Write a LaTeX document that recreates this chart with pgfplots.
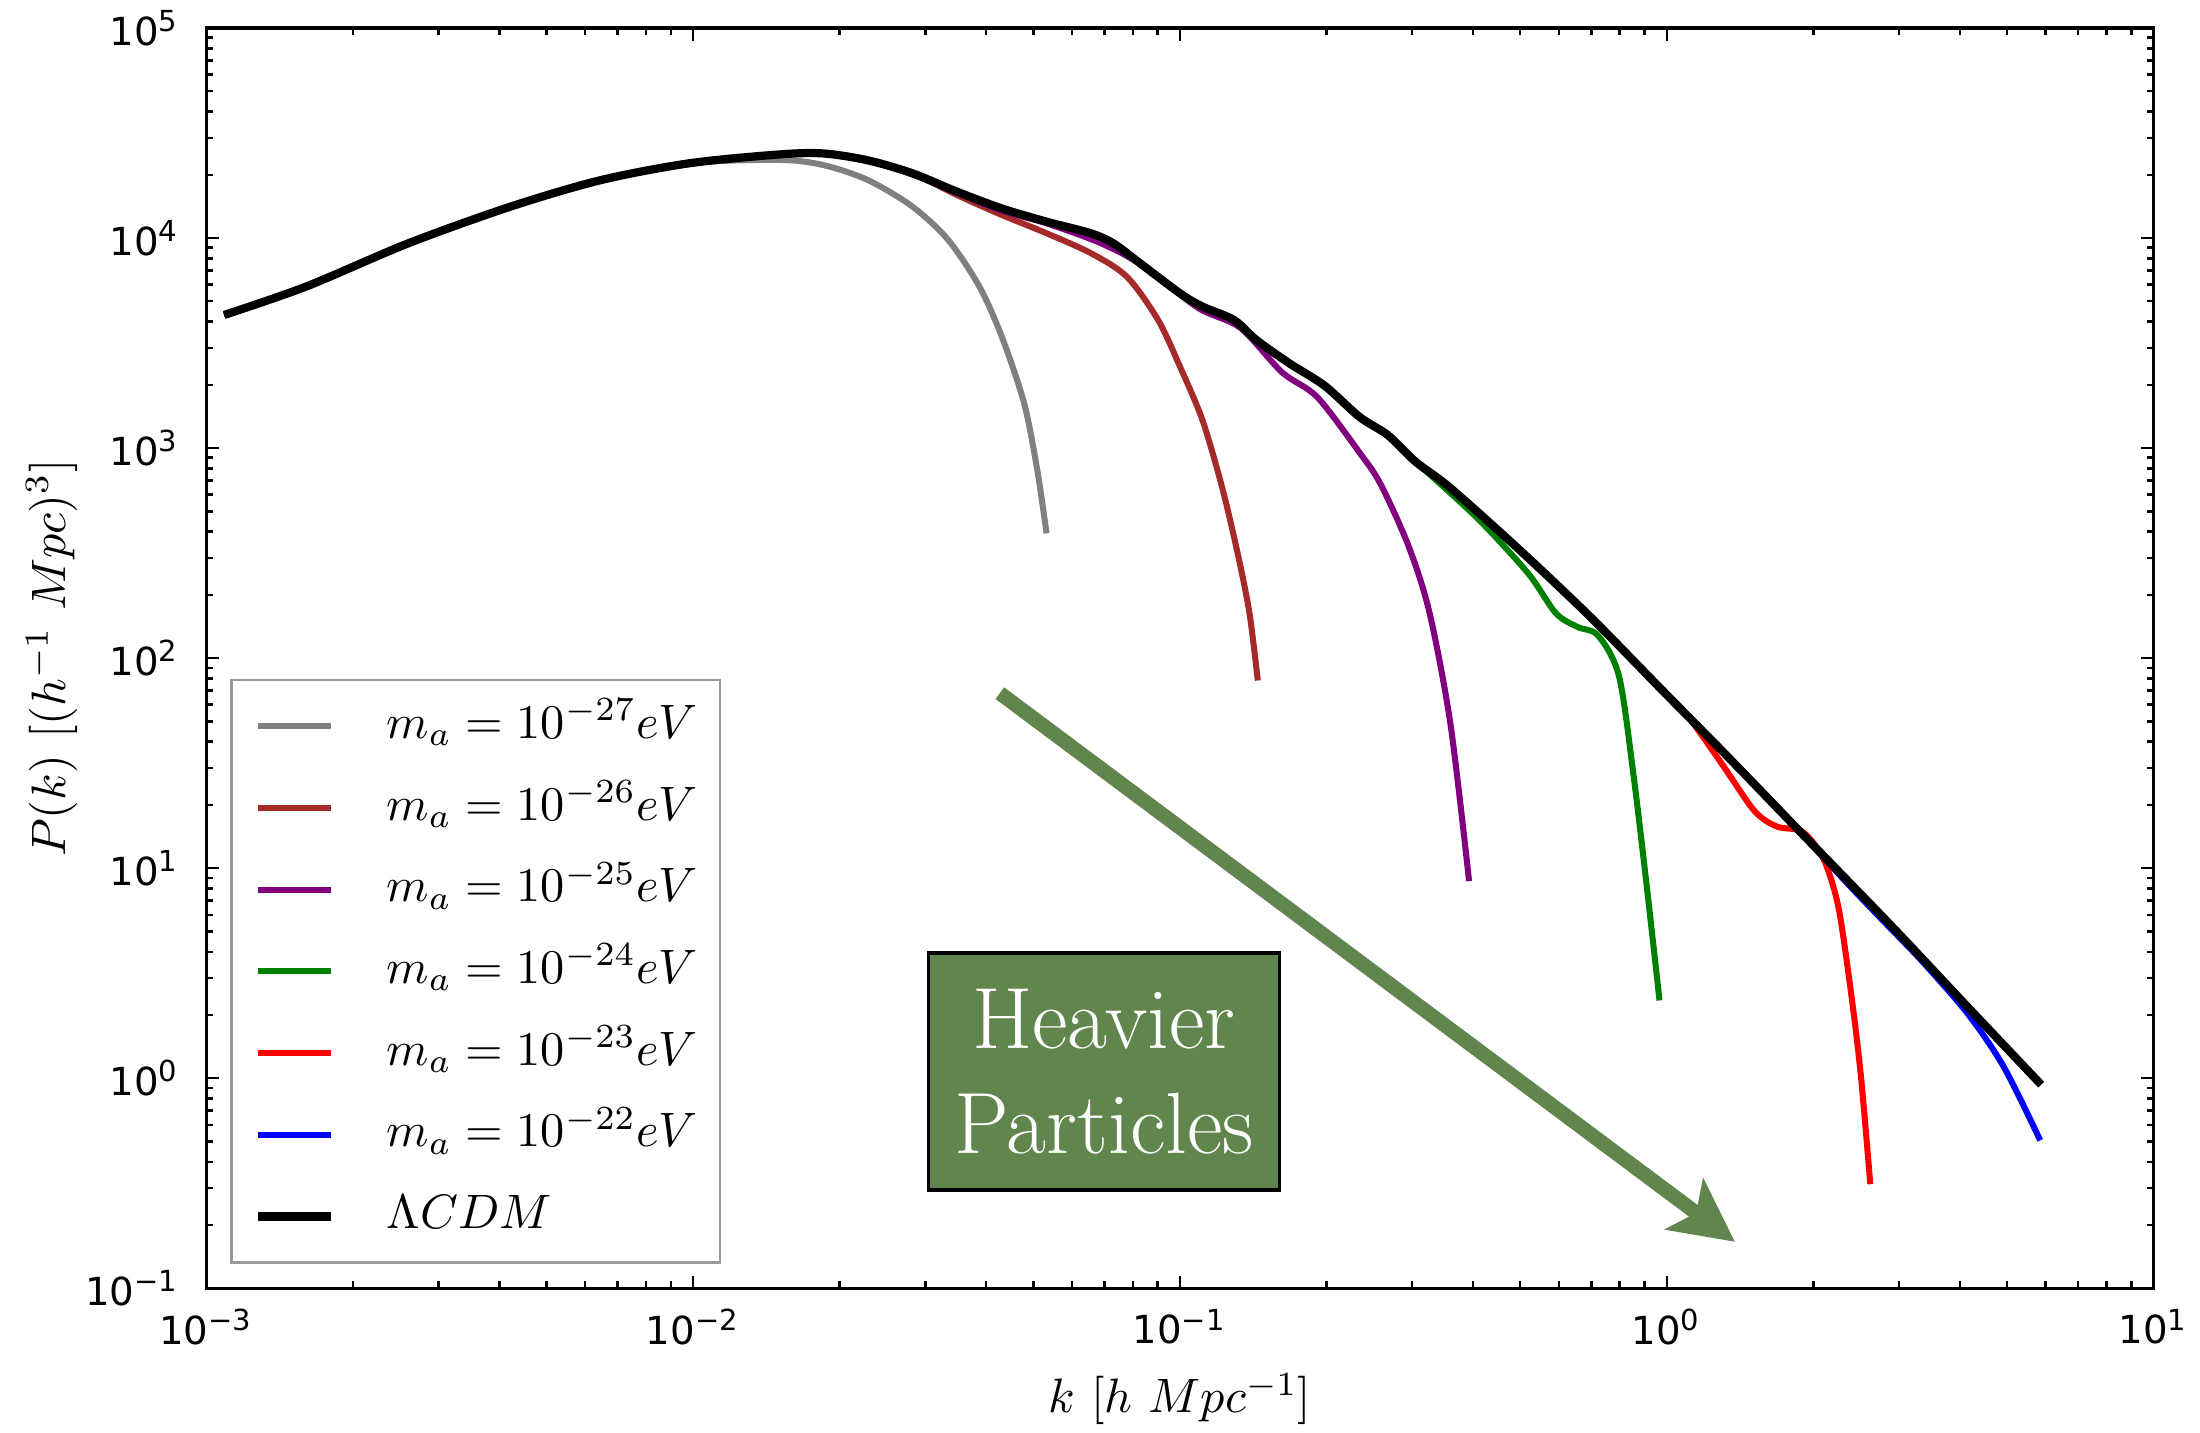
\documentclass[border=0pt]{standalone}
\usepackage{fontspec}
\usepackage{pgfplots}
\pgfplotsset{compat=1.18}
\usetikzlibrary{arrows.meta,calc}
\newfontfamily\dejavu{DejaVu Sans}
\definecolor{mplgray}{RGB}{128,128,128}
\definecolor{mplbrown}{RGB}{165,42,42}
\definecolor{mplpurple}{RGB}{128,0,128}
\definecolor{mplgreen}{RGB}{0,128,0}
\definecolor{boxgreen}{RGB}{96,133,77}

\begin{document}
\begin{tikzpicture}
\begin{axis}[
    name=ax,
    scale only axis,
    width=14.16cm, height=9.163cm,
    xmode=log, ymode=log,
    xmin=1e-3, xmax=10, ymin=0.1, ymax=1e5,
    xtick={1e-3,1e-2,1e-1,1,10},
    xticklabels={10\textsuperscript{−3},10\textsuperscript{−2},10\textsuperscript{−1},10\textsuperscript{0},10\textsuperscript{1}},
    ytick={1e-1,1,10,100,1e3,1e4,1e5},
    yticklabels={10\textsuperscript{−1},10\textsuperscript{0},10\textsuperscript{1},10\textsuperscript{2},10\textsuperscript{3},10\textsuperscript{4},10\textsuperscript{5}},
    ticklabel style={font=\dejavu\fontsize{8}{9.6}\selectfont},
    xticklabel style={yshift=-0.8pt},
    yticklabel style={xshift=-2pt},
    tick align=inside,
    major tick length=2.6pt, minor tick length=1.4pt,
    every tick/.style={black, line width=0.5pt},
    axis line style={line width=0.65pt},
    xlabel={$k\ [h\ Mpc^{-1}]$},
    ylabel={$P(k)\ [(h^{-1}\ Mpc)^3]$},
    label style={font=\fontsize{11.3}{13.5}\selectfont},
    every axis x label/.style={at={(axis description cs:0.5,-0.088)}, anchor=center},
    every axis y label/.style={at={(axis description cs:-0.0793,0.5)}, anchor=center, rotate=90},
    legend style={at={(0.0122,0.0189)}, anchor=south west, draw=black!40, line width=0.6pt,
        inner sep=4.6pt, font=\fontsize{10}{12}\selectfont, row sep=6.9pt,
        nodes={inner sep=0pt, text height=7.5pt, text depth=2.5pt},
        /tikz/every odd column/.append style={column sep=10.7pt}},
    legend cell align=left,
    legend image code/.code={\draw[#1] (0cm,0cm) -- (0.53cm,0cm);},
]
% m_a = 1e-27 eV
\addplot[mplgray, line width=1.25pt, smooth] coordinates {
 (1.089e-3,4305) (1.603e-3,5875) (2.600e-3,9441) (4.207e-3,14090) (6.442e-3,18840) (9.817e-3,22700)
 (0.01500,23550) (0.01849,22280) (0.02286,18880) (0.02825,14090) (0.03342,9795) (0.03873,5875)
 (0.04305,3396) (0.04786,1633) (0.05093,785.2) (0.05321,392.6)};
\addlegendentry{$m_a = 10^{-27}eV$}
% m_a = 1e-26 eV
\addplot[mplbrown, line width=1.25pt, smooth] coordinates {
 (1.089e-3,4305) (1.603e-3,5875) (2.600e-3,9441) (4.207e-3,14090) (6.442e-3,18840) (9.817e-3,22700)
 (0.01500,25000) (0.01849,25290) (0.02286,23440) (0.02825,20320) (0.03483,16030) (0.04305,12880)
 (0.05321,10540) (0.06561,8472) (0.07780,6546) (0.09016,4074) (0.1000,2443) (0.1112,1361)
 (0.1220,653) (0.1313,317) (0.1389,164) (0.1445,78.2)};
\addlegendentry{$m_a = 10^{-26}eV$}
% m_a = 1e-25 eV
\addplot[mplpurple, line width=1.25pt, smooth] coordinates {
 (1.089e-3,4305) (1.603e-3,5875) (2.600e-3,9441) (4.207e-3,14090) (6.442e-3,18840) (9.817e-3,22700)
 (0.01500,25000) (0.01849,25290) (0.02286,23300) (0.02825,20100) (0.03483,16400) (0.04305,13500)
 (0.05321,11750) (0.06855,9484) (0.08356,7430) (0.1089,4656) (0.1330,3741) (0.1622,2291)
 (0.1914,1750) (0.2339,950.6) (0.2582,674.5) (0.2951,339.6) (0.3258,163.3) (0.3597,47.97) (0.3926,8.670)};
\addlegendentry{$m_a = 10^{-25}eV$}
% m_a = 1e-24 eV
\addplot[mplgreen, line width=1.25pt, smooth] coordinates {
 (1.089e-3,4305) (1.603e-3,5875) (2.600e-3,9441) (4.207e-3,14090) (6.442e-3,18840) (9.817e-3,22700)
 (0.01500,25000) (0.01849,25290) (0.02286,23440) (0.02825,20320) (0.03483,16630) (0.04305,13840)
 (0.05321,11970) (0.06561,10540) (0.07295,9441) (0.08110,7870) (0.1000,5458) (0.1112,4721)
 (0.1291,4074) (0.1435,3273) (0.1679,2529) (0.1982,1982) (0.2339,1406) (0.2673,1153) (0.3048,861.0)
 (0.3258,750) (0.4111,456.0) (0.5188,253.5) (0.5916,163.7) (0.6546,140.9) (0.7228,127.9)
 (0.7980,81.85) (0.8551,27.23) (0.9120,7.745) (0.9661,2.344)};
\addlegendentry{$m_a = 10^{-24}eV$}
% m_a = 1e-23 eV
\addplot[red, line width=1.25pt, smooth] coordinates {
 (1.089e-3,4305) (1.603e-3,5875) (2.600e-3,9441) (4.207e-3,14090) (6.442e-3,18840) (9.817e-3,22700)
 (0.01500,25000) (0.01849,25290) (0.02286,23440) (0.02825,20320) (0.03483,16630) (0.04305,13840)
 (0.05321,11970) (0.06561,10540) (0.07295,9441) (0.08110,7870) (0.1000,5458) (0.1112,4721)
 (0.1291,4074) (0.1435,3273) (0.1679,2529) (0.1982,1982) (0.2339,1406) (0.2673,1153) (0.3048,861.0)
 (0.3597,644.2) (0.5012,323.6) (0.6982,156.3) (0.9727,71.29)
 (1.102,53.33) (1.303,30.90) (1.514,18.71) (1.683,15.78) (1.871,15.17) (1.991,13.37) (2.123,10.40)
 (2.259,6.266) (2.410,2.198) (2.512,0.9506) (2.618,0.3126)};
\addlegendentry{$m_a = 10^{-23}eV$}
% m_a = 1e-22 eV
\addplot[blue, line width=1.25pt, smooth] coordinates {
 (1.089e-3,4305) (1.603e-3,5875) (2.600e-3,9441) (4.207e-3,14090) (6.442e-3,18840) (9.817e-3,22700)
 (0.01500,25000) (0.01849,25290) (0.02286,23440) (0.02825,20320) (0.03483,16630) (0.04305,13840)
 (0.05321,11970) (0.06561,10540) (0.07295,9441) (0.08110,7870) (0.1000,5458) (0.1112,4721)
 (0.1291,4074) (0.1435,3273) (0.1679,2529) (0.1982,1982) (0.2339,1406) (0.2673,1153) (0.3048,861.0)
 (0.3597,644.2) (0.5012,323.6) (0.6982,156.3) (0.9727,71.29) (1.358,32.51) (1.968,13.20)
 (2.350,8.45) (2.735,5.85) (3.365,3.55) (4.169,2.000) (4.932,1.122) (5.848,0.5058)};
\addlegendentry{$m_a = 10^{-22}eV$}
% LambdaCDM
\addplot[black, line width=1.7pt, smooth] coordinates {
 (1.089e-3,4305) (1.603e-3,5875) (2.600e-3,9441) (4.207e-3,14090) (6.442e-3,18840) (9.817e-3,22700)
 (0.01500,25000) (0.01849,25290) (0.02286,23440) (0.02825,20320) (0.03483,16630) (0.04305,13840)
 (0.05321,11970) (0.06561,10540) (0.07295,9441) (0.08110,7870) (0.1000,5458) (0.1112,4721)
 (0.1291,4074) (0.1435,3273) (0.1679,2529) (0.1982,1982) (0.2339,1406) (0.2673,1153) (0.3048,861.0)
 (0.3597,644.2) (0.5012,323.6) (0.6982,156.3) (0.9727,71.29) (1.358,32.51) (1.968,13.34)
 (2.931,5.140) (4.083,2.270) (5.875,0.931)};
\addlegendentry{$\Lambda CDM$}

\node[fill=boxgreen, draw=black, line width=0.7pt, text=white, minimum width=72.6pt,
      minimum height=49pt, align=center, inner sep=0pt,
      font=\fontsize{18}{21.8}\selectfont] at (axis cs:0.0698,1.077) {Heavier\\Particles};
\draw[boxgreen, line width=3pt, -{Stealth[length=13pt,width=13pt,inset=3pt]}]
  (axis cs:0.04266,68.1) -- (axis cs:1.380,0.1663);
\end{axis}
\pgfresetboundingbox
\path[use as bounding box] ($(ax.south west)+(-1.5cm,-1.051cm)$) rectangle ($(ax.north east)+(0.337cm,0.204cm)$);
\end{tikzpicture}
\end{document}
